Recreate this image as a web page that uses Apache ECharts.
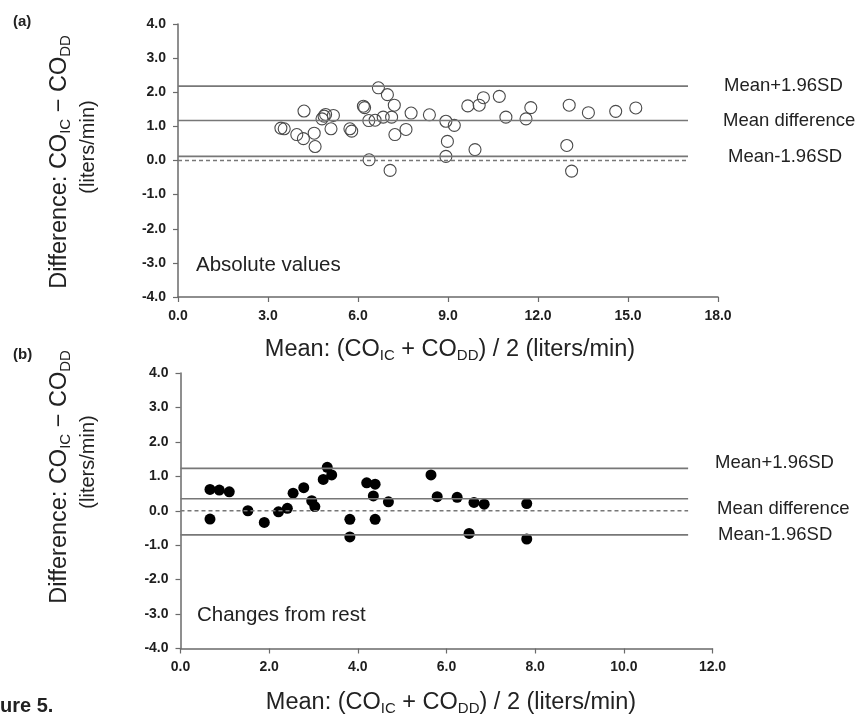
<!DOCTYPE html>
<html>
<head>
<meta charset="utf-8">
<script src="https://cdn.jsdelivr.net/npm/echarts@6/dist/echarts.min.js"></script>
<style>
  html, body { margin: 0; padding: 0; background: #fff; }
  #chart { width: 862px; height: 724px; }
</style>
</head>
<body>
<div id="chart"></div>
<script>
// Panel (a): absolute values — mean of the two methods vs. their difference
const absMean = [3.43, 3.54, 3.96, 4.18, 4.20, 4.54, 4.57, 4.87, 4.92, 4.80,
  5.10, 5.18, 5.73, 5.79, 6.18, 6.22, 6.36, 6.37, 6.57, 6.68,
  6.84, 6.98, 7.12, 7.21, 7.23, 7.60, 7.77, 8.38, 8.93, 9.21,
  8.98, 8.93, 7.07, 9.66, 10.04, 10.18, 10.71, 9.90, 10.93, 11.60,
  11.76, 13.04, 13.68, 14.59, 15.26, 12.96, 13.12];
const absDiff = [0.95, 0.93, 0.76, 0.64, 1.45, 0.80, 0.41, 1.30, 1.35, 1.22,
  0.93, 1.32, 0.93, 0.86, 1.59, 1.55, 1.17, 0.02, 1.18, 2.13,
  1.27, 1.93, 1.27, 1.62, 0.76, 0.91, 1.39, 1.34, 1.15, 1.03,
  0.56, 0.12, -0.29, 1.60, 1.62, 1.84, 1.88, 0.32, 1.27, 1.22,
  1.55, 1.62, 1.40, 1.44, 1.54, 0.44, -0.31];

// Panel (b): changes from rest
const chgMean = [0.665, 0.875, 1.10, 0.665, 1.52, 1.89, 2.21, 2.41, 2.54, 2.78,
  2.96, 3.03, 3.22, 3.31, 3.41, 3.82, 3.82, 4.20, 4.39, 4.35,
  4.39, 4.69, 5.65, 5.79, 6.24, 6.62, 6.85, 6.51, 7.81, 7.81];
const chgDiff = [0.62, 0.60, 0.55, -0.24, 0.00, -0.34, -0.03, 0.07, 0.51, 0.67,
  0.29, 0.12, 0.91, 1.26, 1.04, -0.25, -0.76, 0.81, 0.77, 0.43,
  -0.25, 0.26, 1.04, 0.41, 0.39, 0.24, 0.19, -0.66, 0.21, -0.82];

// Agreement limits: upper limit, mean difference, lower limit
const limitNames = ['Mean+1.96SD', 'Mean difference', 'Mean-1.96SD'];
const absLimits = [2.18, 1.17, 0.12];
const chgLimits = [1.23, 0.35, -0.70];
const absLimitEnd = 17.0;
const chgLimitEnd = 11.45;

// Axis tick settings
const absXTicks = { min: 0, max: 18, step: 3 };
const chgXTicks = { min: 0, max: 12, step: 2 };
const diffTicks = { min: -4, max: 4, step: 1 };

const FONT = 'Liberation Sans, Arial, sans-serif';
const AXIS_COLOR = '#6a6a6a';
const LINE_COLOR = '#777';

function pairs(xs, ys) { return xs.map((x, i) => [x, ys[i]]); }

function axisCfg(idx, t) {
  return {
    type: 'value', gridIndex: idx, min: t.min, max: t.max, interval: t.step,
    axisLine: { show: true, onZero: false, lineStyle: { color: AXIS_COLOR, width: 1.5 } },
    axisTick: { show: true, length: 5, lineStyle: { color: AXIS_COLOR, width: 1.2 } },
    splitLine: { show: false },
    axisLabel: { formatter: v => v.toFixed(1), fontFamily: FONT, fontWeight: 'bold',
      fontSize: 14, color: '#1e1e1e', margin: 12 }
  };
}

function limitSeries(idx, values, end, distances, offsets) {
  return values.map((v, i) => ({
    type: 'line', xAxisIndex: idx, yAxisIndex: idx,
    data: [[0, v], [end, v]],
    symbol: 'none', silent: true, animation: false,
    lineStyle: { color: LINE_COLOR, width: 1.6 },
    endLabel: { show: true, formatter: limitNames[i], distance: distances[i],
      offset: offsets[i], fontFamily: FONT, fontSize: 18.5, color: '#222' }
  }));
}
function zeroSeries(idx, end) {
  return {
    type: 'line', xAxisIndex: idx, yAxisIndex: idx,
    data: [[0, 0], [end, 0]], symbol: 'none', silent: true, animation: false,
    lineStyle: { color: LINE_COLOR, width: 1.3, type: [4, 3] }
  };
}

// Axis titles with lowered subscripts
const titleRich = {
  m: { fontFamily: FONT, fontSize: 23.5, color: '#222', lineHeight: 26 },
  s: { fontFamily: FONT, fontSize: 15, color: '#222', lineHeight: 12, verticalAlign: 'bottom' }
};
const yTitle = '{m|Difference: CO}{s|IC}{m| \u2212 CO}{s|DD}';
const xTitle = '{m|Mean: (CO}{s|IC}{m| + CO}{s|DD}{m|) / 2 (liters/min)}';

function txt(x, y, text, extra, rot) {
  return {
    type: 'text', x, y, rotation: rot || 0, silent: true,
    style: Object.assign({ text, fontFamily: FONT, fill: '#222',
      align: 'left', verticalAlign: 'middle' }, extra)
  };
}

const chart = echarts.init(document.getElementById('chart'), null, { renderer: 'canvas' });
chart.setOption({
  backgroundColor: '#fff',
  animation: false,
  grid: [
    { left: 178, top: 24, width: 540, height: 273 },
    { left: 180.5, top: 373, width: 532, height: 275.5 }
  ],
  xAxis: [axisCfg(0, absXTicks), axisCfg(1, chgXTicks)],
  yAxis: [axisCfg(0, diffTicks), axisCfg(1, diffTicks)],
  series: [
    zeroSeries(0, absLimitEnd),
    ...limitSeries(0, absLimits, absLimitEnd, [36, 35, 40], [[0, 0], [0, 0], [0, 1]]),
    {
      type: 'scatter', xAxisIndex: 0, yAxisIndex: 0,
      data: pairs(absMean, absDiff), symbol: 'circle', symbolSize: 12,
      itemStyle: { color: 'rgba(0,0,0,0)', borderColor: '#4a4a4a', borderWidth: 1.1, opacity: 1 }
    },
    zeroSeries(1, chgLimitEnd),
    ...limitSeries(1, chgLimits, chgLimitEnd, [27, 29, 30], [[0, -5], [0, 10], [0, 0]]),
    {
      type: 'scatter', xAxisIndex: 1, yAxisIndex: 1,
      data: pairs(chgMean, chgDiff), symbol: 'circle', symbolSize: 11,
      itemStyle: { color: '#000', opacity: 1 }
    }
  ],
  graphic: [
    txt(13, 22, '(a)', { fontSize: 15, fontWeight: 'bold' }),
    txt(13, 355, '(b)', { fontSize: 15, fontWeight: 'bold' }),
    txt(-30, 706, 'Figure 5.', { fontSize: 20, fontWeight: 'bold' }),
    txt(196, 265, 'Absolute values', { fontSize: 20.5 }),
    txt(197, 615, 'Changes from rest', { fontSize: 20.5 }),
    // y-axis titles, read bottom to top
    txt(60, 162, yTitle, { rich: titleRich, align: 'center' }, Math.PI / 2),
    txt(88, 147, '(liters/min)', { fontSize: 20, align: 'center' }, Math.PI / 2),
    txt(60, 477, yTitle, { rich: titleRich, align: 'center' }, Math.PI / 2),
    txt(88, 462, '(liters/min)', { fontSize: 20, align: 'center' }, Math.PI / 2),
    // x-axis titles
    txt(450, 350, xTitle, { rich: titleRich, align: 'center' }),
    txt(451, 703, xTitle, { rich: titleRich, align: 'center' })
  ]
});
</script>
</body>
</html>
